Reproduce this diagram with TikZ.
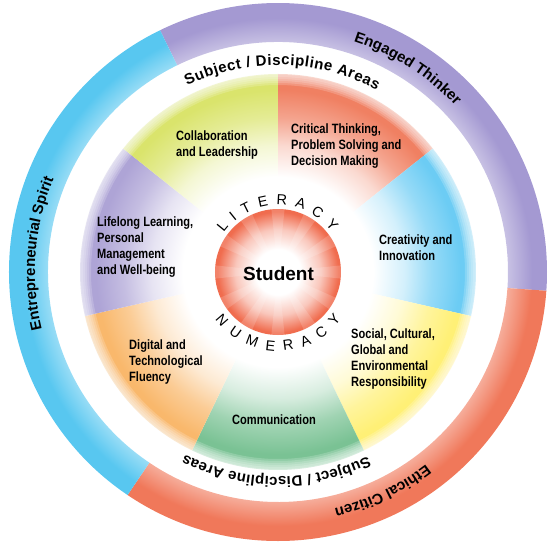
\documentclass[tikz,border=0pt]{standalone}
\usepackage{fontspec}
\setmainfont{Liberation Sans}
\setsansfont{Liberation Sans}
\newfontfamily\condfont[FakeStretch=0.82]{Liberation Sans}
\usetikzlibrary{decorations.text}
\definecolor{collabc}{RGB}{218,228,108}
\definecolor{critc}{RGB}{240,128,98}
\definecolor{creatc}{RGB}{108,204,244}
\definecolor{socialc}{RGB}{255,240,118}
\definecolor{commc}{RGB}{122,194,148}
\definecolor{digitc}{RGB}{249,184,108}
\definecolor{lifec}{RGB}{174,164,214}
\definecolor{ringblue}{RGB}{88,199,240}
\definecolor{ringpurple}{RGB}{164,153,210}
\definecolor{ringred}{RGB}{240,120,90}
\definecolor{studentred}{RGB}{240,108,78}
\colorlet{segc}{white}
\colorlet{segm}{white}
\colorlet{segh}{white}
\colorlet{ringc}{white}
\colorlet{ringl}{white}
\pgfdeclareradialshading[segc,segm,segh]{segfade}{\pgfpoint{0bp}{0bp}}{%
  color(0bp)=(white); color(12bp)=(white); color(16bp)=(segm);
  color(19.5bp)=(segh); color(23bp)=(segc); color(25bp)=(segc); color(50bp)=(segc)}
\pgfdeclareradialshading[ringc,ringl]{ringfade}{\pgfpoint{0bp}{0bp}}{%
  color(0bp)=(ringl); color(21.3bp)=(ringl); color(23.6bp)=(ringc);
  color(25bp)=(ringc); color(50bp)=(ringc)}
\pgfdeclareradialshading{studfade}{\pgfpoint{0bp}{0bp}}{%
  color(0bp)=(white); color(9bp)=(white); color(17bp)=(studentred!38!white);
  color(24bp)=(studentred); color(25bp)=(studentred); color(50bp)=(studentred)}
\tikzset{
  seglabel/.style={anchor=west, align=left, inner sep=0pt,
    font=\condfont\bfseries\fontsize{13.5}{16}\selectfont},
  ringtext/.style={decorate, decoration={text along path, text align=center,
    text={|\bfseries\fontsize{15}{15}\selectfont|#1}}},
  areatext/.style={decorate, decoration={text along path, text align=fit to path,
    text={|\bfseries\fontsize{15}{15}\selectfont|#1}}},
  coretext/.style={decorate, decoration={text along path, text align=fit to path,
    text={|\fontsize{14.5}{14.5}\selectfont|#1}}},
}
\newcommand\ringarc[3]{%
  \colorlet{ringc}{#3}\colorlet{ringl}{#3!60!white}
  \begin{scope}
    \clip (#1:230) arc[start angle=#1, end angle=#2, radius=230]
      -- (#2:269) arc[start angle=#2, end angle=#1, radius=269] -- cycle;
    \shade[shading=ringfade] (0,0) circle (269);
  \end{scope}}

\begin{document}
\begin{tikzpicture}[x=1pt, y=1pt]
\useasboundingbox (-278,-272) rectangle (274,272);

% outer ring
\ringarc{116}{-4}{ringpurple}
\ringarc{-4}{-124}{ringred}
\ringarc{-124}{-244}{ringblue}

% the seven segments
\foreach \c [count=\i from 0] in {critc,creatc,socialc,commc,digitc,lifec,collabc} {
  \pgfmathsetmacro\a{90-\i*360/7}
  \pgfmathsetmacro\b{\a-360/7}
  \colorlet{segc}{\c}\colorlet{segm}{\c!30!white}\colorlet{segh}{\c!72!white}
  \begin{scope}
    \clip (0,0) -- (\a:198) arc[start angle=\a, end angle=\b, radius=198] -- cycle;
    \shade[shading=segfade] (0,0) circle (198);
  \end{scope}
}
% soft outer edge
\foreach \k in {0,...,5}
  \fill[white, opacity=0.18, even odd rule] (0,0) circle (199) circle (187+2*\k);

% student core
\fill[white] (0,0) circle (84);
\shade[shading=studfade] (0,0) circle (63);
\foreach \r in {0,30,...,330}
  \fill[white, opacity=0.16] (0,0) -- (\r-6:63) arc[start angle=\r-6, end angle=\r+6, radius=63] -- cycle;
\node[inner sep=0pt, font=\bfseries\fontsize{19}{19}\selectfont] (student) at (0.5,-2) {Student};

% curved texts
\path[coretext=LITERACY] (144:67) arc[start angle=144, end angle=37, radius=67];
\path[coretext=NUMERACY] (217:79) arc[start angle=217, end angle=323, radius=79];
\path[areatext={Subject / Discipline Areas}] (116:207) arc[start angle=116, end angle=61.5, radius=207];
\path[areatext={Subject / Discipline Areas}] (-64:205) arc[start angle=-64, end angle=-117, radius=205];
\path[ringtext={Engaged Thinker}] (97.5:243) arc[start angle=97.5, end angle=17.5, radius=243];
\path[ringtext={Ethical Citizen}] (-24.5:243) arc[start angle=-24.5, end angle=-104.5, radius=243];
\path[ringtext={Entrepreneurial Spirit}] (225.5:243) arc[start angle=225.5, end angle=125.5, radius=243];

% segment labels
\node[seglabel] (collab) at (-102,127) {Collaboration\\and Leadership};
\node[seglabel] (crit) at (13,126) {Critical Thinking,\\Problem Solving and\\Decision Making};
\node[seglabel] (creat) at (101,24) {Creativity and\\Innovation};
\node[seglabel] (social) at (73,-87) {Social, Cultural,\\Global and\\Environmental\\Responsibility};
\node[seglabel, anchor=center] (comm) at (-4,-148) {Communication};
\node[seglabel] (digit) at (-149,-90) {Digital and\\Technological\\Fluency};
\node[seglabel] (life) at (-181,25) {Lifelong Learning,\\Personal\\Management\\and Well-being};

\end{tikzpicture}
\end{document}
